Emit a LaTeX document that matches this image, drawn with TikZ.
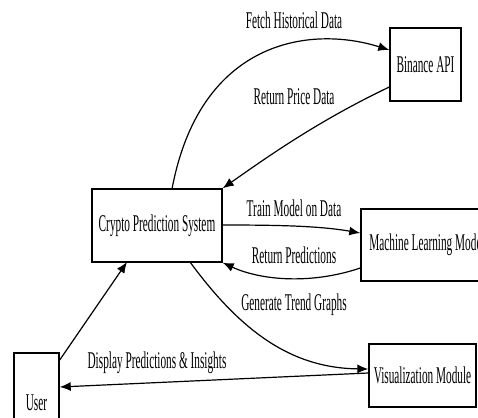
\documentclass[tikz,border=0pt]{standalone}
\usepackage{fontspec}
\setmainfont{Liberation Serif}[FakeStretch=0.47]
\usetikzlibrary{arrows.meta}
\begin{document}
\begin{tikzpicture}[x=1pt,y=-1pt,
  box/.style={draw=black,line width=1.4pt,fill=white,inner sep=0pt,font=\fontsize{24}{27}\selectfont},
  lbl/.style={inner sep=0pt,font=\fontsize{24}{27}\selectfont},
  conn/.style={line width=1.2pt,-{Latex[length=11pt,width=9pt]}}]
\useasboundingbox (0,0) rectangle (478,417);
\clip (0,0) rectangle (478,417);
\node[box,minimum width=71pt,minimum height=73pt] (binance) at (425.5,64.5) {Binance API};
\node[box,minimum width=130pt,minimum height=73pt] (crypto) at (157,225.5) {Crypto Prediction System};
\node[box,minimum width=132pt,minimum height=72pt] (ml) at (427,245) {Machine Learning Model};
\node[box,minimum width=107pt,minimum height=63pt] (vis) at (422.5,375.5) {Visualization Module};
\node[box,minimum width=45pt,minimum height=100pt] (user) at (36.5,403) {User};
\coordinate (c1) at (172,189);
\coordinate (c2) at (190,262);
\coordinate (c3) at (127,262);
\draw[conn] (c1) .. controls (200,40) and (310,25) .. (binance.west |- 0,50);
\draw[conn] (binance.west |- 0,87) .. controls (320,120) and (270,155) .. (crypto.north east);
\draw[conn] (crypto.east |- 0,225) .. controls (280,225) and (320,226) .. (ml.west |- 0,233);
\draw[conn] (ml.west |- 0,268) .. controls (310,285) and (260,280) .. (crypto.south east);
\draw[conn] (c2) .. controls (240,330) and (290,368) .. (vis.west |- 0,369);
\draw[conn] (vis.west |- 0,373) -- (user.east |- 0,387);
\draw[conn] (user.east |- 0,360) -- (c3);
\node[lbl] (l1) at (294,20) {Fetch Historical Data};
\node[lbl] (l2) at (294,97) {Return Price Data};
\node[lbl] (l3) at (294,208) {Train Model on Data};
\node[lbl] (l4) at (294,255) {Return Predictions};
\node[lbl] (l5) at (294,305) {Generate Trend Graphs};
\node[lbl] (l6) at (157,363) {Display Predictions \& Insights};
\end{tikzpicture}
\end{document}
